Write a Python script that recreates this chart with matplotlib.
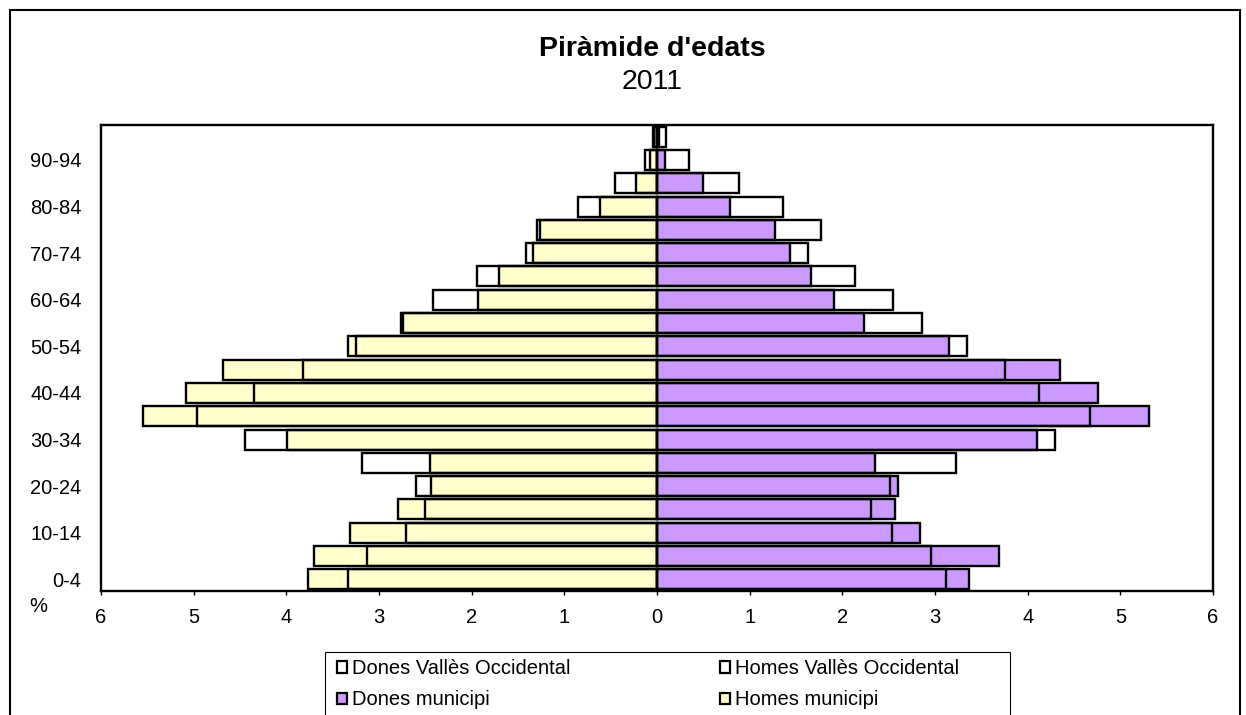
import matplotlib
matplotlib.use("Agg")
import matplotlib.pyplot as plt
from matplotlib.patches import Patch, Rectangle
import numpy as np


edats = ["0-4", "5-9", "10-14", "15-19", "20-24", "25-29", "30-34", "35-39",
         "40-44", "45-49", "50-54", "55-59", "60-64", "65-69", "70-74",
         "75-79", "80-84", "85-89", "90-94", "95+"]

# percentatges, de 0-4 cap amunt
homes_municipi = [3.77, 3.70, 3.31, 2.80, 2.44, 2.45, 3.99, 5.55, 5.08, 4.68,
                  3.33, 2.74, 1.93, 1.70, 1.34, 1.26, 0.62, 0.23, 0.08, 0.03]
homes_valles = [3.33, 3.13, 2.71, 2.50, 2.60, 3.18, 4.45, 4.96, 4.35, 3.82,
                3.25, 2.76, 2.42, 1.94, 1.41, 1.29, 0.85, 0.45, 0.13, 0.04]
dones_municipi = [3.37, 3.69, 2.84, 2.57, 2.60, 2.35, 4.10, 5.31, 4.76, 4.35,
                  3.15, 2.23, 1.91, 1.66, 1.44, 1.27, 0.79, 0.50, 0.09, 0.02]
dones_valles = [3.12, 2.96, 2.54, 2.31, 2.51, 3.23, 4.30, 4.67, 4.12, 3.75,
                3.35, 2.86, 2.55, 2.14, 1.63, 1.77, 1.36, 0.89, 0.35, 0.10]

x_ticks = [-6, -5, -4, -3, -2, -1, 0, 1, 2, 3, 4, 5, 6]

GROC = "#FFFFCC"
LILA = "#CC99FF"


def main():
    plt.rcParams['font.family'] = ['Liberation Sans', 'DejaVu Sans']
    W, H = 1246, 715
    fig = plt.figure(figsize=(W / 100, H / 100), dpi=100)

    # marc exterior del grafic
    fig.patches.append(Rectangle((10 / W, -0.1), 1230 / W, 1 - 10 / H + 0.1,
                                 transform=fig.transFigure, fill=False,
                                 edgecolor="black", linewidth=1.5, zorder=0))

    ax = fig.add_axes([101 / W, 1 - 591 / H, (1213 - 101) / W, (591 - 125) / H])

    y = np.arange(len(edats))
    h = 0.86
    lw = 1.7

    ax.barh(y, -np.array(homes_municipi), height=h, color=GROC,
            edgecolor="black", linewidth=lw, zorder=2)
    ax.barh(y, dones_municipi, height=h, color=LILA,
            edgecolor="black", linewidth=lw, zorder=2)
    ax.barh(y, -np.array(homes_valles), height=h, fill=False,
            edgecolor="black", linewidth=lw, zorder=3)
    ax.barh(y, dones_valles, height=h, fill=False,
            edgecolor="black", linewidth=lw, zorder=3)

    ax.set_xlim(-6, 6)
    ax.set_ylim(-0.5, len(edats) - 0.5)
    ax.set_xticks(x_ticks)
    ax.set_xticklabels([str(abs(t)) for t in x_ticks])
    ax.set_yticks(y[::2])
    ax.set_yticklabels(edats[::2])
    ax.tick_params(axis="x", direction="out", length=3, width=1,
                   pad=9, labelsize=14.5)
    ax.tick_params(axis="y", length=0, pad=14, labelsize=14.5)
    for s in ax.spines.values():
        s.set_linewidth(1.7)

    fig.text(38 / W, 1 - 607 / H, "%", fontsize=14.5, ha="center", va="center")

    fig.text(652 / W, 1 - 49 / H, "Piràmide d'edats", fontsize=20.5,
             fontweight="bold", ha="center", va="center")
    fig.text(652 / W, 1 - 82 / H, "2011", fontsize=20.5, ha="center",
             va="center")

    # llegenda
    fig.patches.append(Rectangle((325 / W, -0.1), (1010 - 325) / W,
                                 1 - 652 / H + 0.1, transform=fig.transFigure,
                                 facecolor="white", edgecolor="black",
                                 linewidth=0.8, zorder=1))
    handles = [
        Patch(facecolor="white", edgecolor="black", linewidth=1.6,
              label="Dones Vallès Occidental"),
        Patch(facecolor=LILA, edgecolor="black", linewidth=1.6,
              label="Dones municipi"),
        Patch(facecolor="white", edgecolor="black", linewidth=1.6,
              label="Homes Vallès Occidental"),
        Patch(facecolor=GROC, edgecolor="black", linewidth=1.6,
              label="Homes municipi"),
    ]
    fig.legend(handles=handles, ncol=2, loc="upper left",
               bbox_to_anchor=(337 / W, 1 - 659 / H), frameon=False,
               fontsize=14.5, handlelength=0.5, handleheight=0.5,
               handletextpad=0.25, columnspacing=7.4, labelspacing=0.62,
               borderpad=0, borderaxespad=0)

    fig.savefig("out.png", dpi=100)


if __name__ == "__main__":
    main()
